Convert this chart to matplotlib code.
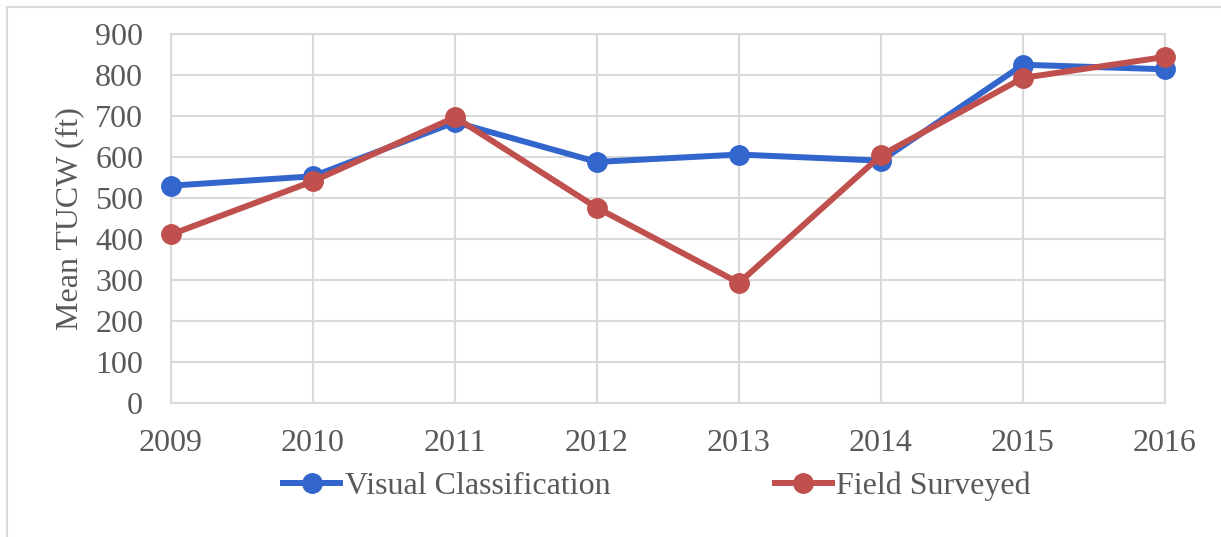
import matplotlib
matplotlib.use("Agg")
import matplotlib.pyplot as plt
from matplotlib.patches import Rectangle

# data
years = [2009, 2010, 2011, 2012, 2013, 2014, 2015, 2016]
visual = [530, 553, 685, 588, 606, 591, 825, 814]
field = [411, 541, 697, 476, 293, 604, 793, 844]
y_ticks = [0, 100, 200, 300, 400, 500, 600, 700, 800, 900]

BLUE = "#3366cc"
RED = "#c0504d"
GRID = "#d9d9d9"
TEXT = "#595959"
FS = 23

plt.rcParams["font.family"] = ["Liberation Serif", "DejaVu Serif"]
plt.rcParams["font.size"] = FS

fig = plt.figure(figsize=(12.21, 5.37), dpi=100)
W, H = 1221, 537

# chart-area border (cropped on the right and bottom like the source)
fig.patches.append(
    Rectangle((7 / W, -0.1), 1.2, 1 - 7 / H + 0.1, transform=fig.transFigure,
              fill=False, edgecolor=GRID, linewidth=1.5)
)

ax = fig.add_axes([171 / W, 1 - 403 / H, (1165 - 171) / W, (403 - 34) / H])
ax.plot(years, visual, color=BLUE, lw=4.3, marker="o", ms=14,
        label="Visual Classification", zorder=3, clip_on=False)
ax.plot(years, field, color=RED, lw=4.3, marker="o", ms=14,
        label="Field Surveyed", zorder=4, clip_on=False)

ax.set_xlim(years[0], years[-1])
ax.set_ylim(0, 900)
ax.set_xticks(years)
ax.set_yticks(y_ticks)
ax.grid(True, color=GRID, lw=1.5)
ax.set_axisbelow(True)
for s in ax.spines.values():
    s.set_color(GRID)
    s.set_linewidth(1.5)
ax.tick_params(length=0, colors=TEXT, labelsize=FS)
ax.tick_params(axis="y", pad=20)
ax.tick_params(axis="x", pad=19)
ax.set_ylabel("Mean TUCW (ft)", color=TEXT, fontsize=FS, labelpad=8)

fig.legend(loc="center", bbox_to_anchor=(657 / W, 1 - 486 / H), ncol=2,
           frameon=False, fontsize=FS, handlelength=1.78, handletextpad=0.14,
           columnspacing=5.15, labelcolor=TEXT)

fig.savefig("out.png", dpi=100)
